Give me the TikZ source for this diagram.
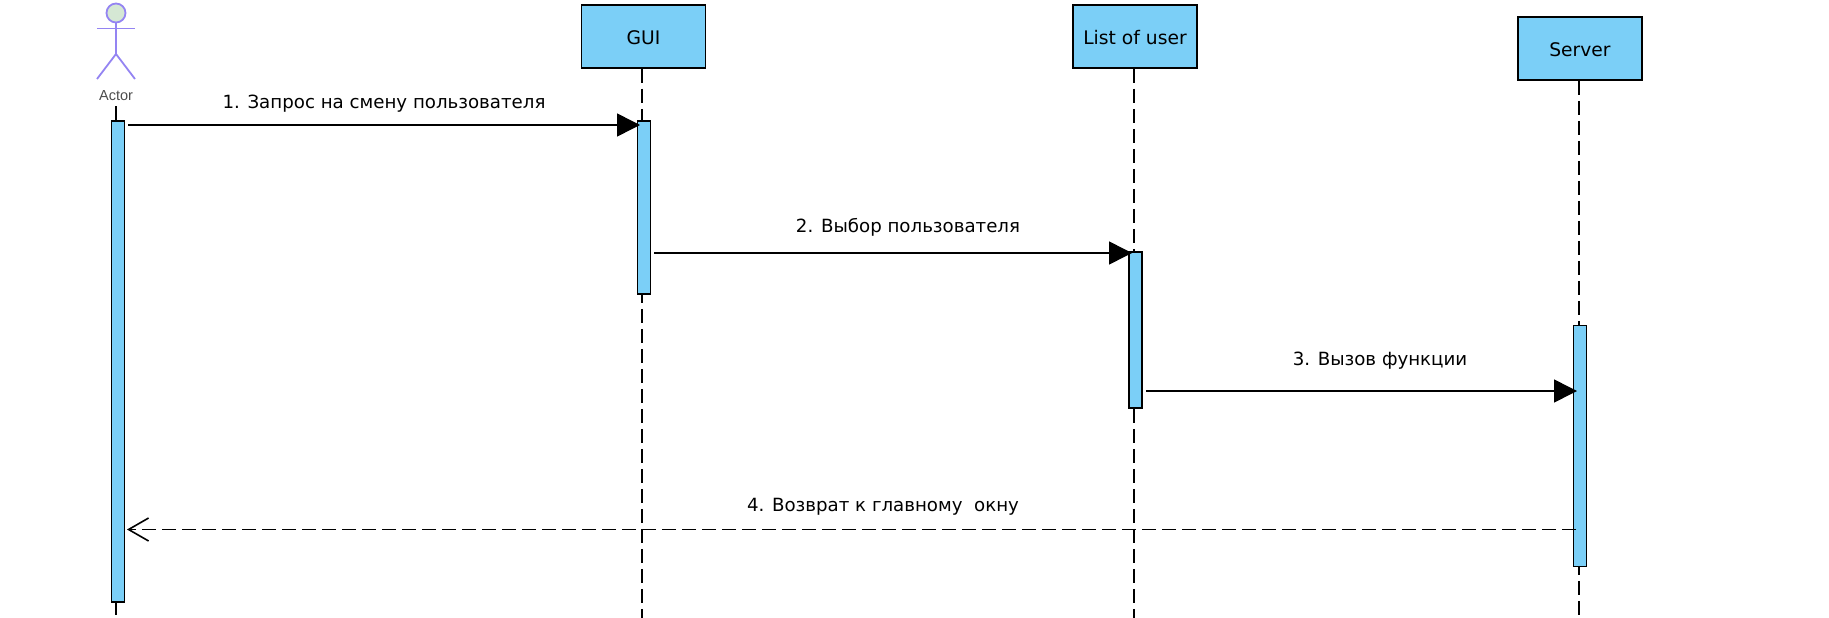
\documentclass[tikz,border=0pt]{standalone}
\usepackage{fontspec}
\setmainfont{DejaVu Sans}
\newfontfamily\actorfont{Liberation Sans}
\usetikzlibrary{arrows.meta}
\definecolor{boxblue}{HTML}{7BCFF7}
\definecolor{actorline}{HTML}{9484F2}
\definecolor{actorhead}{HTML}{D5E8D4}
\tikzset{
  objbox/.style={draw,fill=boxblue,line width=1.5pt,minimum width=124pt,minimum height=63pt,inner sep=0pt,font=\fontsize{18.7}{22}\selectfont},
  actbar/.style={draw,fill=boxblue,line width=1.7pt,minimum width=13pt,inner sep=0pt},
  lifeline/.style={line width=1.5pt,dash pattern=on 14pt off 6pt},
  msglabel/.style={inner sep=0pt,font=\fontsize{18.2}{22}\selectfont},
  callmsg/.style={line width=1.5pt,-{Triangle[length=23pt,width=23pt]}},
  retmsg/.style={line width=1.6pt,dash pattern=on 14pt off 6pt,-{Straight Barb[length=20pt,width=23pt,line width=1.6pt]}}
}
\newcommand{\boxtext}[1]{\raisebox{-1pt}[\height][\depth]{#1}}
\begin{document}
\begin{tikzpicture}[x=1pt,y=-1pt]
  \useasboundingbox (0,0) rectangle (1829,618);
  \draw
    (643.5,36.5) node[objbox] (gui){\boxtext{GUI}}
    (1135,36.5) node[objbox] (list){\boxtext{List of user}}
    (1580,48.5) node[objbox] (server){\boxtext{Server}}
    (116,96) node[inner sep=0pt,text=black!70,font=\actorfont\fontsize{14.5}{16}\selectfont] (actor){Actor};
  \coordinate (actorend) at (116,615);
  \coordinate (guiend) at (642,618);
  \coordinate (listend) at (1134,618);
  \coordinate (serverend) at (1579,618);
  \begin{scope}[lifeline]
    \draw (gui.south -| guiend) to (guiend);
    \draw (list.south -| listend) to (listend);
    \draw (server.south -| serverend) to (serverend);
  \end{scope}
  \node[circle,draw=actorline,fill=actorhead,line width=1.8pt,minimum size=19pt,inner sep=0pt] (head) at (116,13) {};
  \begin{scope}[actorline,line width=1.8pt]
    \coordinate (hip) at (116,54);
    \coordinate (arml) at (97,28.5);
    \coordinate (armr) at (135,28.5);
    \coordinate (legl) at (97,79);
    \coordinate (legr) at (135,79);
    \draw (head) to (hip);
    \draw (arml) to (armr);
    \draw (hip) to (legl);
    \draw (hip) to (legr);
  \end{scope}
  \coordinate (actortop) at (116,106);
  \draw[line width=1.5pt] (actortop) to (actorend);
  \node[actbar,minimum height=481pt] (actorbar) at (118,361.5) {};
  \node[actbar,minimum height=173pt] (guibar) at (644,207.5) {};
  \node[actbar,minimum height=156pt] (listbar) at (1135.5,330) {};
  \node[actbar,minimum height=241pt] (serverbar) at (1580,446) {};
  \coordinate (m1a) at (128,125);
  \coordinate (m1b) at (640,125);
  \coordinate (m2a) at (654,253);
  \coordinate (m2b) at (1132,253);
  \coordinate (m3a) at (1146,391);
  \coordinate (m3b) at (1577,391);
  \coordinate (m4a) at (1576,529.5);
  \coordinate (m4b) at (127,529.5);
  \draw[callmsg] (m1a) to (m1b);
  \draw[callmsg] (m2a) to (m2b);
  \draw[callmsg] (m3a) to (m3b);
  \draw[retmsg] (m4a) to (m4b);
  \node[msglabel] (l1) at (384,104) {1. Запрос на смену пользователя};
  \node[msglabel] (l2) at (908,227) {2. Выбор пользователя};
  \node[msglabel] (l3) at (1380,361) {3. Вызов функции};
  \node[msglabel] (l4) at (883,507) {4. Возврат к главному\ \ окну};
\end{tikzpicture}
\end{document}
